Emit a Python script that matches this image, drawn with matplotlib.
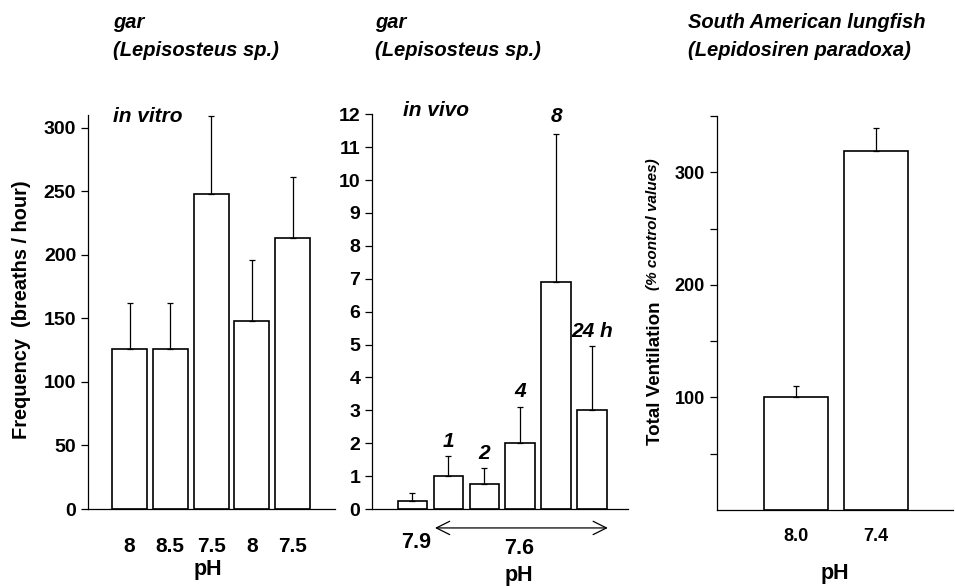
import matplotlib
matplotlib.use("Agg")
import matplotlib.pyplot as plt
import numpy as np

plt.rcParams['font.family'] = ['Liberation Sans', 'DejaVu Sans']
plt.rcParams['font.weight'] = 'bold'

W, H = 955, 586

# panel 1: gar in vitro
vitro_labels = ['8', '8.5', '7.5', '8', '7.5']
vitro_mean = [126, 126, 248, 148, 213]
vitro_top = [162, 162, 309, 196, 261]

# panel 2: gar in vivo, hours at pH 7.6
vivo_mean = [0.25, 1.0, 0.75, 2.0, 6.9, 3.0]
vivo_top = [0.5, 1.6, 1.25, 3.1, 11.4, 4.95]
vivo_hours = ['', '1', '2', '4', '8', '24 h']
vivo_hour_y = [0, 2.05, 1.7, 3.57, 11.93, 5.4]

# panel 3: lungfish
lung_labels = ['8.0', '7.4']
lung_mean = [100, 319]
lung_top = [110, 339]


def px_axes(left, right, bottom, top):
    return fig.add_axes([left / W, (H - bottom) / H,
                         (right - left) / W, (bottom - top) / H])


def style(ax):
    for s in ['top', 'right']:
        ax.spines[s].set_visible(False)
    for s in ['left', 'bottom']:
        ax.spines[s].set_linewidth(0.9)
    ax.tick_params(axis='y', direction='out', length=5, width=0.9, labelsize=14)
    ax.tick_params(axis='x', length=0, labelsize=15)


def bars(ax, mean, top, width):
    x = np.arange(len(mean))
    up = np.array(top) - np.array(mean)
    ax.bar(x, mean, width=width, color='white', edgecolor='black', linewidth=1.2, zorder=2)
    ax.errorbar(x, mean, yerr=[np.zeros(len(mean)), up], fmt='none',
                ecolor='black', elinewidth=0.9, capsize=2.5, capthick=0.9, zorder=3)
    return x


fig = plt.figure(figsize=(W / 100, H / 100), dpi=100)

# ---- panel 1
ax1 = px_axes(88, 335, 509, 115)
style(ax1)
x1 = bars(ax1, vitro_mean, vitro_top, 0.86)
ax1.set_xlim(-1.02, 5.04)
ax1.set_ylim(0, 310)
ax1.set_yticks(range(0, 301, 50))
ax1.set_xticks(x1)
ax1.set_xticklabels(vitro_labels)
ax1.tick_params(axis='x', pad=20)
ax1.text(113 / W, 1 - 116 / H, 'in vitro', transform=fig.transFigure,
         fontsize=15, style='italic', va='center')

# ---- panel 2
ax2 = px_axes(372, 628, 509, 114.3)
style(ax2)
x2 = bars(ax2, vivo_mean, vivo_top, 0.83)
ax2.set_xlim(-1.125, 5.99)
ax2.set_ylim(0, 12)
ax2.set_yticks(range(0, 13))
ax2.set_xticks([])
for xi, lab, ly in zip(x2, vivo_hours, vivo_hour_y):
    if lab:
        ax2.text(xi, ly, lab, ha='center', va='center', fontsize=15, style='italic')
ax2.text(403 / W, 1 - 111 / H, 'in vivo', transform=fig.transFigure,
         fontsize=15, style='italic', va='center')
ax2.annotate('', xy=(0.625, -0.048), xytext=(5.43, -0.048),
             xycoords=('data', 'axes fraction'), textcoords=('data', 'axes fraction'),
             arrowprops=dict(arrowstyle='<->', lw=0.9, color='black',
                             mutation_scale=24, shrinkA=0, shrinkB=0),
             annotation_clip=False)
fig.text(416 / W, 1 - 543 / H, '7.9', ha='center', va='center', fontsize=15.5)
fig.text(519 / W, 1 - 548 / H, '7.6', ha='center', va='center', fontsize=15.5)

# ---- panel 3
ax3 = px_axes(716.7, 953, 510, 116)
style(ax3)
x3 = bars(ax3, lung_mean, lung_top, 0.8)
ax3.set_xlim(-0.99, 1.96)
ax3.set_ylim(0, 350)
ax3.set_yticks(range(50, 351, 50))
ax3.set_yticklabels(['', '100', '', '200', '', '300', ''])
ax3.tick_params(axis='y', labelsize=13)
ax3.set_xticks(x3)
ax3.set_xticklabels(lung_labels)
ax3.tick_params(axis='x', pad=13, labelsize=13)

# axis titles
fig.text(22 / W, 1 - 310 / H, 'Frequency  (breaths / hour)', rotation=90,
         ha='center', va='center', fontsize=14.4)
fig.text(655 / W, 1 - 373 / H, 'Total Ventilation', rotation=90,
         ha='center', va='center', fontsize=13.5)
fig.text(653 / W, 1 - 224 / H, '(% control values)', rotation=90,
         ha='center', va='center', fontsize=11, style='italic')
fig.text(208 / W, 1 - 569 / H, 'pH', ha='center', va='center', fontsize=15.5)
fig.text(519 / W, 1 - 575 / H, 'pH', ha='center', va='center', fontsize=15.5)
fig.text(835 / W, 1 - 574 / H, 'pH', ha='center', va='center', fontsize=15.5)

# panel headings
for xp, lines in [(113, ['gar', '(Lepisosteus sp.)']),
                  (375, ['gar', '(Lepisosteus sp.)']),
                  (688, ['South American lungfish', '(Lepidosiren paradoxa)'])]:
    fig.text(xp / W, 1 - 22 / H, lines[0], fontsize=14.5, style='italic', va='center')
    fig.text(xp / W, 1 - 50 / H, lines[1], fontsize=14.5, style='italic', va='center')

fig.savefig('out.png', dpi=100)
